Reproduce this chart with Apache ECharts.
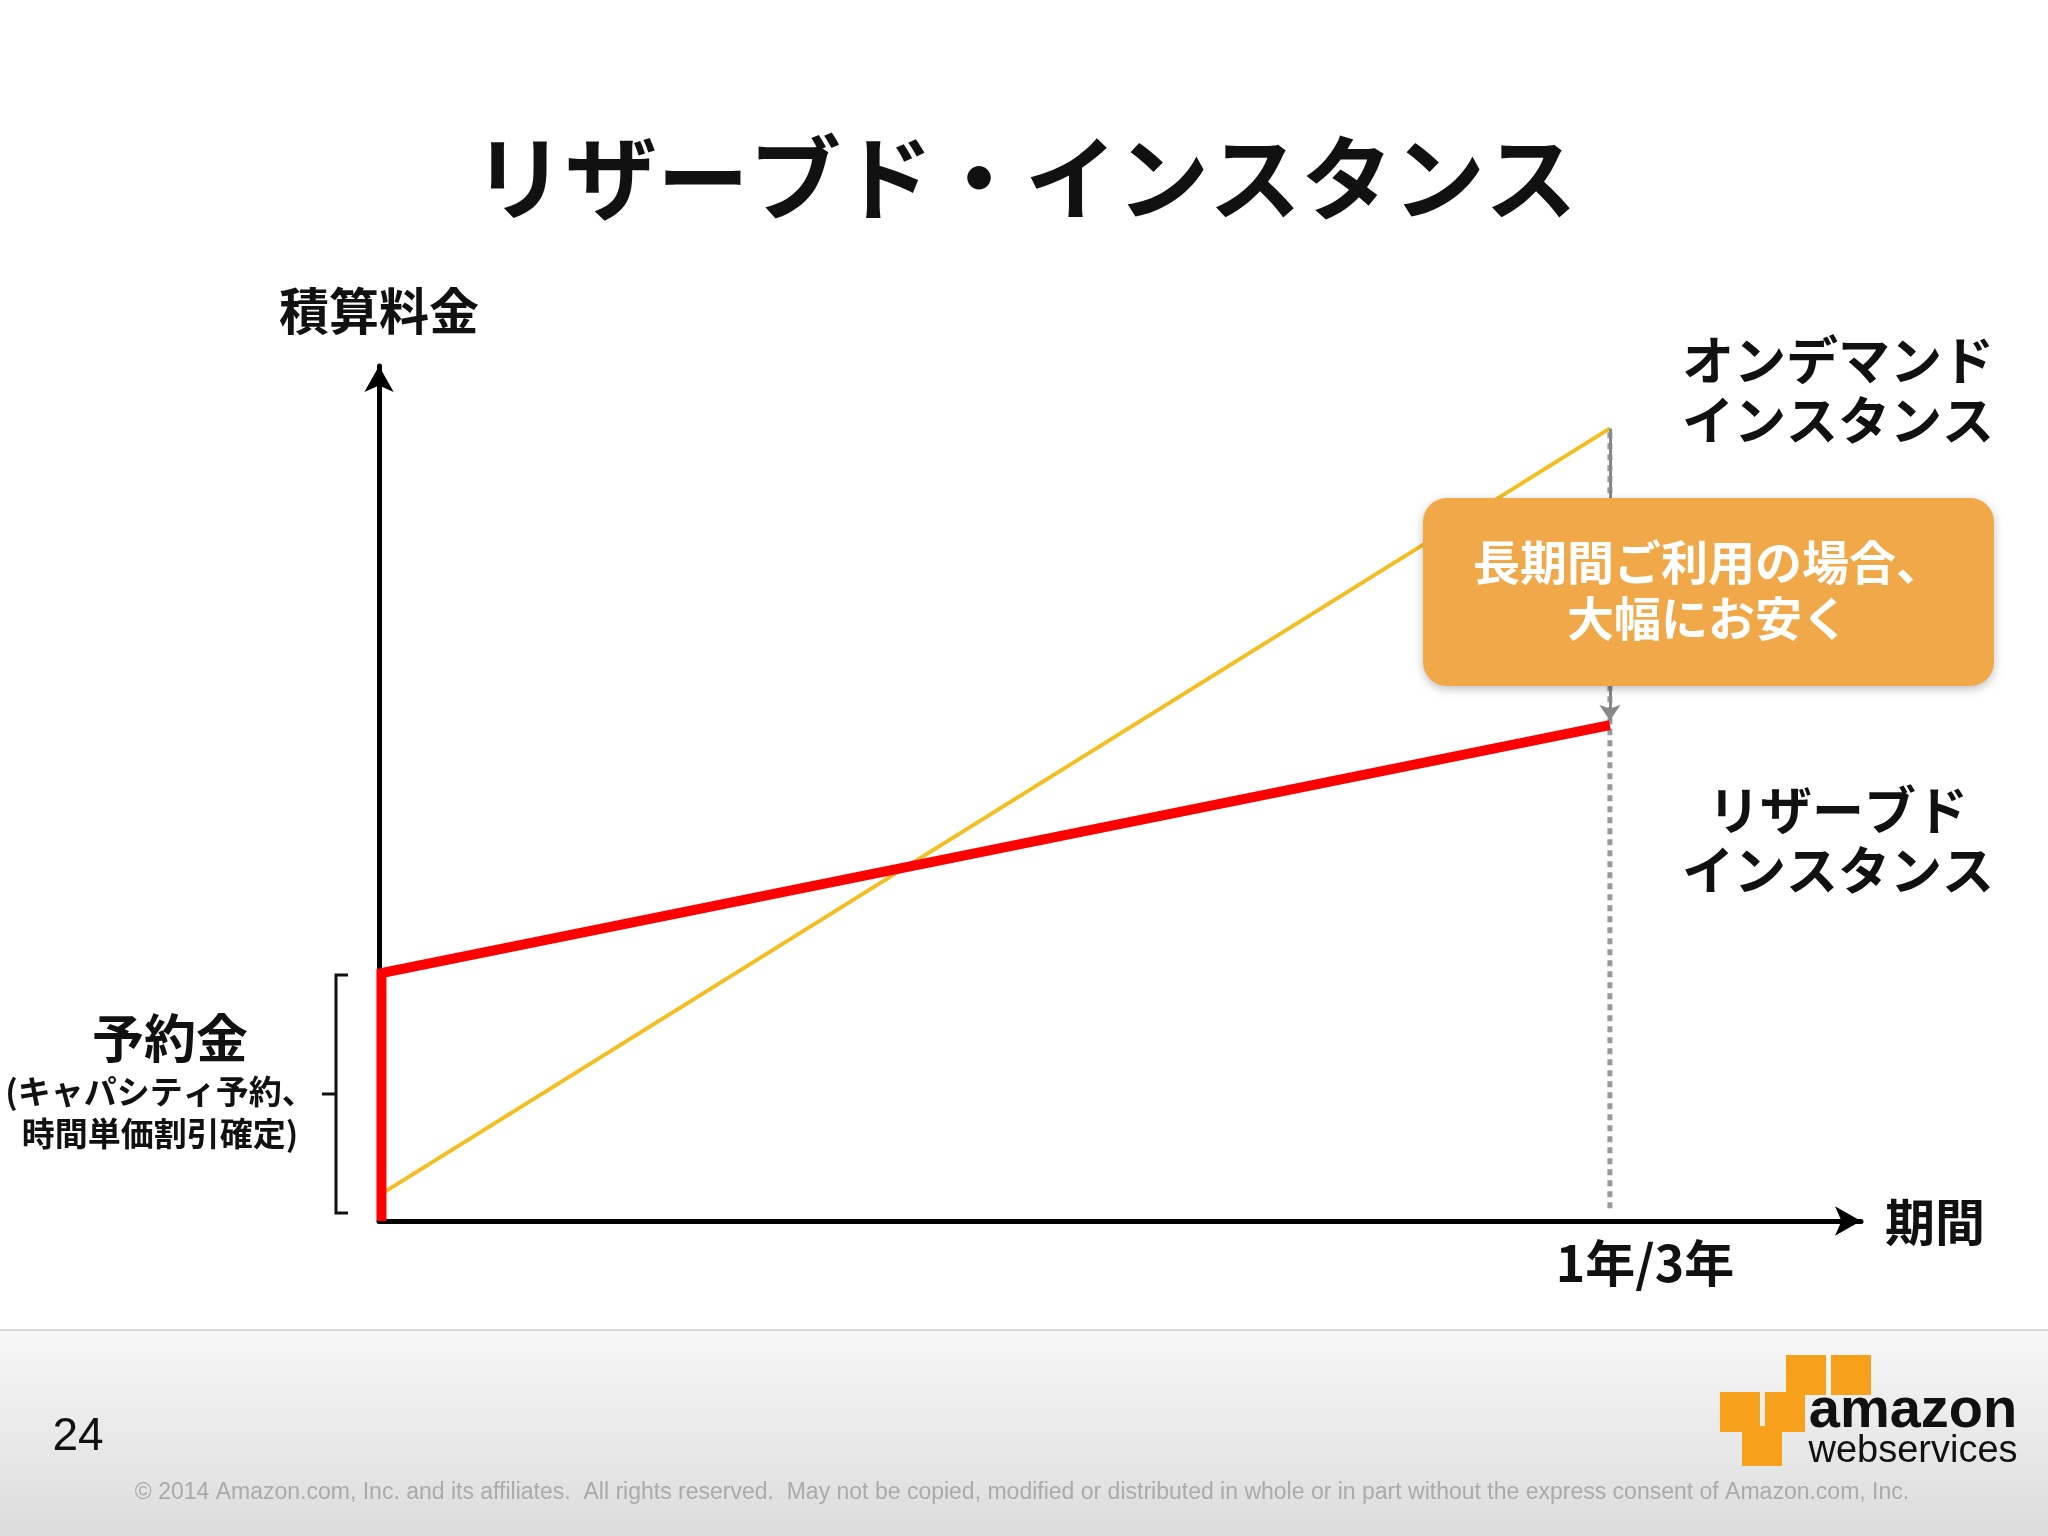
<!DOCTYPE html>
<html><head><meta charset="utf-8">
<script src="https://cdn.jsdelivr.net/npm/echarts@6/dist/echarts.min.js"></script>
<style>html,body{margin:0;padding:0;background:#fff}#c{width:2048px;height:1536px}</style>
</head><body><div id="c"></div>
<script>
const onDemand = [[0, 0.03], [1, 0.927]];
const reserved = [[0.002, 0], [0.002, 0.29], [1, 0.58]];
const periodMark = [[1, 0.015], [1, 0.927]];
const xTickLabel = '1年/3年';
const F = '"Noto Sans CJK JP", sans-serif';
const chart = echarts.init(document.getElementById('c'));
function t(x, y, text, size, opt, z) {
  return {type:'text', x, y, z:z||5, style:Object.assign({text, font:'bold '+size+'px '+F, fill:'#111', align:'center', verticalAlign:'middle', lineHeight:size*1.15}, opt||{})};
}
chart.setOption({
  backgroundColor:'#fff',
  animation:false,
  grid:{left:379, top:366, width:1482, height:855},
  xAxis:{type:'value', min:0, max:1.204, splitLine:{show:false}, axisTick:{show:false}, axisLabel:{show:false},
    axisLine:{onZero:false, lineStyle:{color:'#000', width:5}, symbol:['none','arrow'], symbolSize:[22,26]}},
  yAxis:{type:'value', min:0, max:1, splitLine:{show:false}, axisTick:{show:false}, axisLabel:{show:false},
    axisLine:{lineStyle:{color:'#000', width:5}, symbol:['none','arrow'], symbolSize:[22,26]}},
  series:[
    {type:'line', data:periodMark, symbol:'none', lineStyle:{color:'#999', width:5, type:[6,5]}, z:1,
      markLine:{silent:true, symbol:['none','arrow'], symbolSize:16, label:{show:false},
        lineStyle:{color:'#888', width:3, type:'solid'},
        data:[[{coord:[1,0.927]},{coord:[1,0.585]}]]}},
    {type:'line', data:onDemand, symbol:'none', lineStyle:{color:'#F5BE1E', width:4}, z:2},
    {type:'line', data:reserved, symbol:'none', lineStyle:{color:'#FF0000', width:10, join:'miter'}, z:3}
  ],
  graphic:[
    {type:'rect', z:0, shape:{x:0, y:1330, width:2048, height:206},
      style:{fill:new echarts.graphic.LinearGradient(0,0,0,1,[{offset:0,color:'#f7f7f7'},{offset:1,color:'#dcdcdc'}])}},
    {type:'rect', z:0, shape:{x:0, y:1329, width:2048, height:2}, style:{fill:'#d8d8d8'}},
    t(1025, 178, 'リザーブド・インスタンス', 92),
    t(379, 311, '積算料金', 50),
    t(1838, 390, 'オンデマンド\nインスタンス', 52),
    t(1838, 840, 'リザーブド\nインスタンス', 52),
    t(1935, 1222, '期間', 50),
    t(1645, 1263, xTickLabel, 50),
    t(170, 1038, '予約金', 52),
    t(160, 1112, '(キャパシティ予約、\n時間単価割引確定)', 33, {lineHeight:42}),
    {type:'polyline', shape:{points:[[348,975],[336,975],[336,1213],[348,1213]]}, style:{stroke:'#111', lineWidth:3, fill:'none'}},
    {type:'line', shape:{x1:322, y1:1094, x2:336, y2:1094}, style:{stroke:'#111', lineWidth:3}},
    {type:'rect', z:10, shape:{x:1423, y:498, width:571, height:188, r:24},
      style:{fill:'#F0A848', shadowBlur:10, shadowColor:'rgba(0,0,0,0.25)', shadowOffsetY:3}},
    t(1708, 590, '長期間ご利用の場合、\n大幅にお安く', 47, {fill:'#fff', lineHeight:56}, 12),
    {type:'text', x:78, y:1437, z:10, style:{text:'24', font:'46px Arial, "Liberation Sans"', fill:'#111', align:'center', verticalAlign:'middle'}},
    {type:'text', x:1022, y:1493, z:10, style:{text:'© 2014 Amazon.com, Inc. and its affiliates.  All rights reserved.  May not be copied, modified or distributed in whole or in part without the express consent of Amazon.com, Inc.', font:'23px "Liberation Sans", Arial', fill:'#aaa', align:'center', verticalAlign:'middle'}},
    {type:'text', x:1913, y:1412, z:10, style:{text:'amazon', font:'bold 56px "Liberation Sans", Arial', fill:'#111', align:'center', verticalAlign:'middle'}},
    {type:'text', x:1913, y:1452, z:10, style:{text:'webservices', font:'38px "Liberation Sans Narrow", "Liberation Sans"', fill:'#111', align:'center', verticalAlign:'middle'}},
    {type:'rect', z:10, shape:{x:1786, y:1355, width:40, height:40}, style:{fill:'#F7A01C'}},
    {type:'rect', z:10, shape:{x:1831, y:1355, width:40, height:40}, style:{fill:'#F7A01C'}},
    {type:'rect', z:10, shape:{x:1720, y:1392, width:40, height:40}, style:{fill:'#F7A01C'}},
    {type:'rect', z:10, shape:{x:1765, y:1392, width:40, height:40}, style:{fill:'#F7A01C'}},
    {type:'rect', z:10, shape:{x:1742, y:1426, width:40, height:40}, style:{fill:'#F7A01C'}}
  ]
});
</script></body></html>
